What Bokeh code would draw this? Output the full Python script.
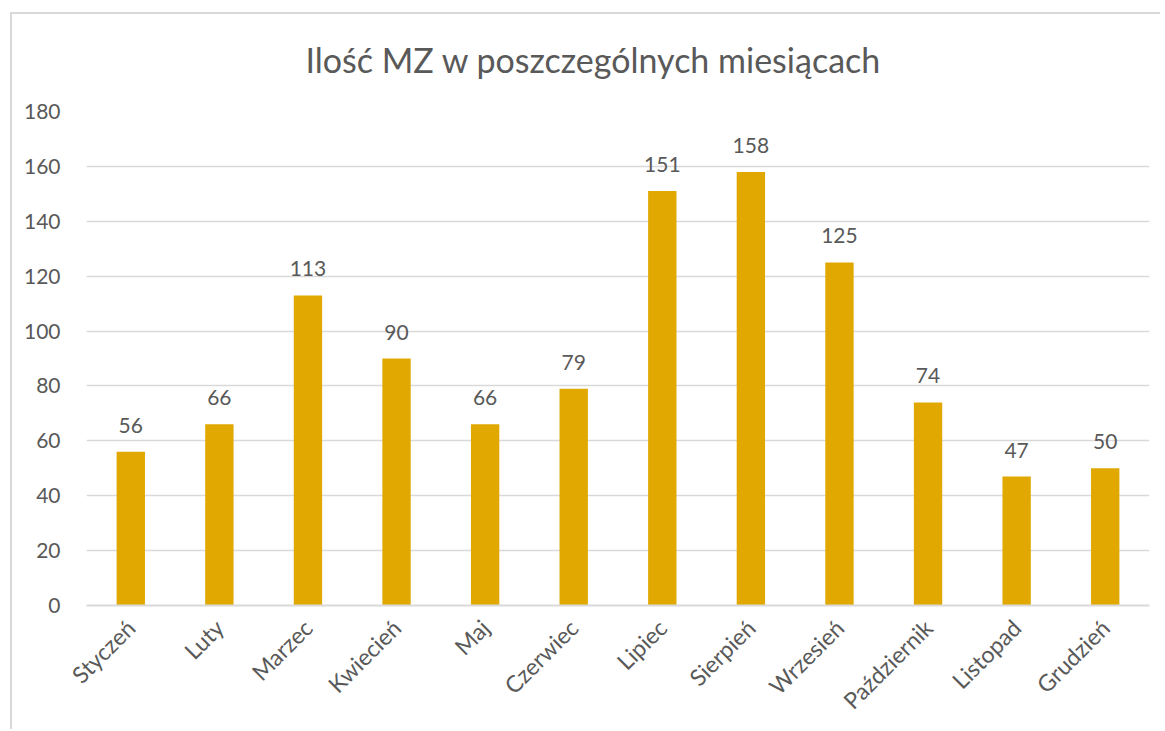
import math
from bokeh.plotting import figure
from bokeh.models import ColumnDataSource, LabelSet, Range1d, FactorRange, SingleIntervalTicker
from bokeh.core.properties import value
from bokeh.embed import file_html
from bokeh.resources import INLINE

months = ["Styczeń", "Luty", "Marzec", "Kwiecień", "Maj", "Czerwiec", "Lipiec",
          "Sierpień", "Wrzesień", "Październik", "Listopad", "Grudzień"]
counts = [56, 66, 113, 90, 66, 79, 151, 158, 125, 74, 47, 50]
title_text = "Ilość MZ w poszczególnych  miesiącach"

FONT = "Lato"
GRAY = "#595959"
GRID = "#d9d9d9"
BAR = "#E0A800"

src = ColumnDataSource(dict(m=months, c=counts, t=[str(v) for v in counts]))

p = figure(width=1160, height=729, x_range=FactorRange(*months), y_range=Range1d(0, 180),
           output_backend="svg", toolbar_location=None,
           min_border_left=86, min_border_top=111, min_border_right=11, min_border_bottom=124)
p.outline_line_color = None
p.background_fill_color = "white"
p.border_fill_color = None
p.styles = {
    "background": "linear-gradient(#d9d9d9,#d9d9d9) 10px 12px / 2px 100% no-repeat, "
                  "linear-gradient(#d9d9d9,#d9d9d9) 10px 12px / 100% 2px no-repeat, white"
}

p.title.text = title_text
p.title.align = "left"
p.title.offset = 219
p.title.standoff = 64
p.title.text_font = FONT
p.title.text_font_size = "34px"
p.title.text_font_style = "normal"
p.title.text_color = GRAY

p.vbar(x="m", top="c", width=0.32, source=src, fill_color=BAR, line_color=None)

p.add_layout(LabelSet(x="m", y="c", text="t", source=src, text_align="center",
                      text_baseline="alphabetic", y_offset=19, text_color=GRAY,
                      text_font=value(FONT), text_font_size="21px"))

p.yaxis.ticker = SingleIntervalTicker(interval=20)
p.yaxis.axis_line_color = None
p.yaxis.major_tick_line_color = None
p.yaxis.minor_tick_line_color = None
p.yaxis.major_label_text_color = GRAY
p.yaxis.major_label_text_font = FONT
p.yaxis.major_label_text_font_size = "21px"
p.yaxis.major_label_standoff = 20

p.xaxis.axis_line_color = GRID
p.xaxis.axis_line_width = 2
p.xaxis.major_tick_line_color = None
p.xaxis.minor_tick_line_color = None
p.xaxis.major_label_orientation = math.pi / 4
p.xaxis.major_label_text_color = GRAY
p.xaxis.major_label_text_font = FONT
p.xaxis.major_label_text_font_size = "23px"
p.xaxis.major_label_standoff = 12

p.xgrid.grid_line_color = None
p.ygrid.grid_line_color = GRID
p.ygrid.grid_line_width = 1.5

open("out.html", "w").write(file_html(p, INLINE))
